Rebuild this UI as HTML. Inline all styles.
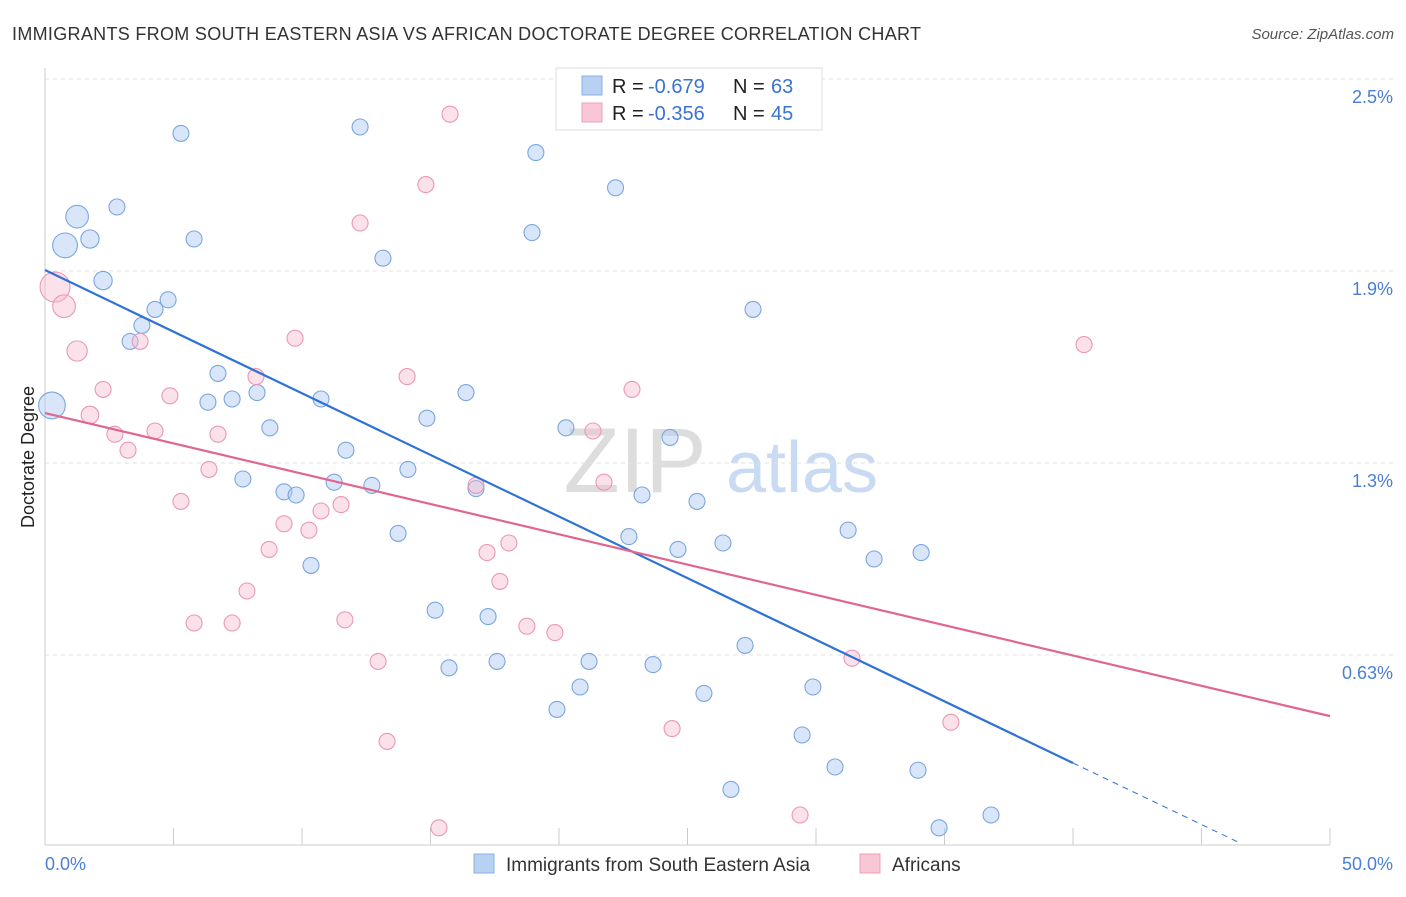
<!DOCTYPE html>
<html><head><meta charset="utf-8"><style>
body{margin:0;background:#fff;font-family:"Liberation Sans",sans-serif;}
svg text{font-family:"Liberation Sans",sans-serif;}
</style></head><body>
<svg id="chart" width="1406" height="892">
<text x="12" y="40" font-size="18" fill="#333" textLength="909">IMMIGRANTS FROM SOUTH EASTERN ASIA VS AFRICAN DOCTORATE DEGREE CORRELATION CHART</text>
<text x="1394" y="39" font-size="15" fill="#555" font-style="italic" text-anchor="end">Source: ZipAtlas.com</text>
<text x="34" y="457" font-size="18" fill="#222" text-anchor="middle" transform="rotate(-90 34 457)">Doctorate Degree</text>
<g><text x="635" y="492" font-size="92" fill="#ddd" font-family="Liberation Serif" text-anchor="middle">ZIP</text><text x="802" y="492" font-size="72" fill="#c8dbf2" text-anchor="middle">atlas</text></g>
<g id="grid"></g><g id="ticks"></g><g id="pts"></g><g id="lines"></g>
<g>
<rect x="556" y="68" width="266" height="62" fill="#fff" stroke="#ddd"/>
<rect x="582" y="76" width="20" height="19" fill="#b8d1f3" stroke="#8ab0e6"/>
<rect x="582" y="103" width="20" height="19" fill="#f9c6d5" stroke="#eda0b8"/>
<text x="612" y="93" font-size="20" fill="#222">R =</text><text x="648" y="93" font-size="20" fill="#3b73d1">-0.679</text>
<text x="733" y="93" font-size="20" fill="#222">N =</text><text x="771" y="93" font-size="20" fill="#3b73d1">63</text>
<text x="612" y="120" font-size="20" fill="#222">R =</text><text x="648" y="120" font-size="20" fill="#3b73d1">-0.356</text>
<text x="733" y="120" font-size="20" fill="#222">N =</text><text x="771" y="120" font-size="20" fill="#3b73d1">45</text>
</g>
<g>
<rect x="474" y="854" width="20" height="19" fill="#b8d1f3" stroke="#8ab0e6"/>
<text x="506" y="871" font-size="19" fill="#333">Immigrants from South Eastern Asia</text>
<rect x="860" y="854" width="20" height="19" fill="#f9c6d5" stroke="#eda0b8"/>
<text x="892" y="871" font-size="19" fill="#333">Africans</text>
</g>
</svg>
<script>
const blueX=[5.29,12.26,19.1,22.2,1.25,2.8,1.75,0.78,5.8,18.95,13.15,2.26,4.79,4.28,3.77,3.31,27.55,0.27,6.73,8.25,7.28,6.34,10.74,16.38,14.86,8.75,20.27,24.32,11.71,14.12,7.7,9.3,9.77,11.25,12.72,16.77,23.23,25.37,13.74,22.72,24.63,26.38,31.25,32.26,34.09,10.35,15.18,17.24,27.24,15.72,17.59,21.17,23.66,20.82,25.64,29.88,19.92,29.46,30.74,33.97,26.69,36.81,34.79];
const blueY=[2.33,2.35,2.27,2.16,2.07,2.10,2.00,1.98,2.00,2.02,1.94,1.87,1.81,1.78,1.73,1.68,1.78,1.48,1.58,1.52,1.50,1.49,1.50,1.52,1.44,1.41,1.41,1.38,1.34,1.28,1.25,1.21,1.20,1.24,1.23,1.22,1.20,1.18,1.08,1.07,1.03,1.05,1.09,1.00,1.02,0.98,0.84,0.82,0.73,0.66,0.68,0.68,0.67,0.60,0.58,0.60,0.53,0.45,0.35,0.34,0.28,0.20,0.16];
const blueSize=[1,1,1,1,2,1,1.3,2.4,1,1,1,1.3,1,1,1,1,1,2.8,1,1,1,1,1,1,1,1,1,1,1,1,1,1,1,1,1,1,1,1,1,1,1,1,1,1,1,1,1,1,1,1,1,1,1,1,1,1,1,1,1,1,1,1,1];
const pinkX=[15.76,14.82,12.26,0.39,0.74,1.25,3.7,9.73,2.26,4.86,8.21,14.09,22.84,1.75,2.72,4.28,6.73,3.23,21.32,40.43,6.38,5.29,16.77,21.75,11.52,10.74,9.3,10.27,18.05,17.2,8.72,17.7,7.86,11.67,5.8,7.28,18.75,19.84,12.96,31.4,35.25,24.4,13.31,29.38,15.33];
const pinkY=[2.39,2.17,2.05,1.85,1.79,1.65,1.68,1.69,1.53,1.51,1.57,1.57,1.53,1.45,1.39,1.40,1.39,1.34,1.40,1.67,1.28,1.18,1.23,1.24,1.17,1.15,1.11,1.09,1.05,1.02,1.03,0.93,0.90,0.81,0.80,0.80,0.79,0.77,0.68,0.69,0.49,0.47,0.43,0.20,0.16];
const pinkSize=[1,1,1,3.5,2,1.6,1,1,1,1,1,1,1,1.2,1,1,1,1,1,1,1,1,1,1,1,1,1,1,1,1,1,1,1,1,1,1,1,1,1,1,1,1,1,1,1];
const blueFit=[[0,1.903],[40,0.3625]], blueFitExt=[[40,0.3625],[46.5,0.1125]];
const pinkFit=[[0,1.456],[50,0.509]];
const yTicks=[2.5,1.9,1.3,0.7], yTickLabels=["2.5%","1.9%","1.3%","0.63%"];
const xTicks=[0,5,10,15,20,25,30,35,40,45,50];
const sx=v=>45+v*25.7, sy=v=>79+(2.5-v)*320;
const NS="http://www.w3.org/2000/svg";
function mk(p,t,a){const e=document.createElementNS(NS,t);for(const k in a)e.setAttribute(k,a[k]);p.appendChild(e);return e;}
const grid=document.getElementById('grid'),ticks=document.getElementById('ticks'),pts=document.getElementById('pts'),lines=document.getElementById('lines');
yTicks.forEach((v,i)=>{
 const l=mk(grid,'line',{x1:45,x2:1395,y1:sy(v),y2:sy(v),stroke:'#e2e2e2','stroke-dasharray':'4,4'});
 
 
 const t=mk(grid,'text',{x:1393,y:sy(v)+24,'font-size':18,fill:'#4a7fd4','text-anchor':'end'});t.textContent=yTickLabels[i];
 
 
});
mk(ticks,'line',{x1:45,x2:45,y1:68,y2:845,stroke:'#ccc'});
mk(ticks,'line',{x1:45,x2:1330,y1:845,y2:845,stroke:'#ccc'});
xTicks.forEach(v=>{const l=mk(ticks,'line',{x1:sx(v),x2:sx(v),y1:828,y2:845,stroke:'#ccc'});
 
 });
let t0=mk(ticks,'text',{x:45,y:870,'font-size':18,fill:'#4a7fd4'});t0.textContent='0.0%';


let t1=mk(ticks,'text',{x:1393,y:870,'font-size':18,fill:'#4a7fd4','text-anchor':'end'});t1.textContent='50.0%';


blueX.forEach((x,i)=>{const c=mk(pts,'circle',{cx:sx(x),cy:sy(blueY[i]),r:8*Math.sqrt(blueSize[i]),fill:'rgba(170,200,242,0.45)',stroke:'#7aa6e0','stroke-width':1.1});
 
 });
pinkX.forEach((x,i)=>{const c=mk(pts,'circle',{cx:sx(x),cy:sy(pinkY[i]),r:8*Math.sqrt(pinkSize[i]),fill:'rgba(246,185,205,0.42)',stroke:'#eb98b2','stroke-width':1.1});
 
 });
function ln(f,col,dash,name){const l=mk(lines,'line',{x1:sx(f[0][0]),y1:sy(f[0][1]),x2:sx(f[1][0]),y2:sy(f[1][1]),stroke:col,'stroke-width':dash?1:2.2});if(dash)l.setAttribute('stroke-dasharray','6,5');
 
 }
ln(blueFit,'#2f72d6',false,'blue-trend-line');
ln(blueFitExt,'#2f72d6',true,'blue-trend-extension');
ln(pinkFit,'#e0668f',false,'pink-trend-line');
</script>
</body></html>
